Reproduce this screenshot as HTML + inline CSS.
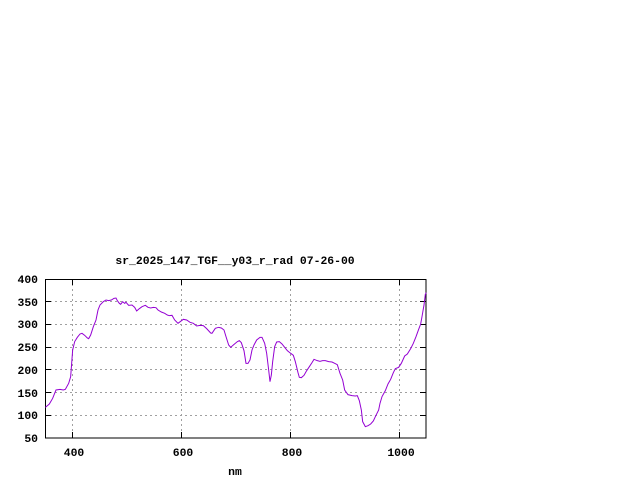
<!DOCTYPE html>
<html><head><style>
html,body{margin:0;padding:0;background:#fff;}
svg{display:block;}
text{font-family:"Liberation Mono",monospace;font-weight:bold;font-size:11.4px;fill:#000;}
</style></head><body>
<svg width="640" height="480" xmlns="http://www.w3.org/2000/svg">
<rect width="640" height="480" fill="#fff"/>
<g stroke="#a0a0a0" stroke-width="1" stroke-dasharray="2,3" fill="none">
<line x1="72.5" y1="279" x2="72.5" y2="438"/>
<line x1="181.5" y1="279" x2="181.5" y2="438"/>
<line x1="290.5" y1="279" x2="290.5" y2="438"/>
<line x1="399.5" y1="279" x2="399.5" y2="438"/>
<line x1="45" y1="301.5" x2="426" y2="301.5"/>
<line x1="45" y1="324.5" x2="426" y2="324.5"/>
<line x1="45" y1="347.5" x2="426" y2="347.5"/>
<line x1="45" y1="369.5" x2="426" y2="369.5"/>
<line x1="45" y1="392.5" x2="426" y2="392.5"/>
<line x1="45" y1="415.5" x2="426" y2="415.5"/>
</g>
<g stroke="#000" stroke-width="1" fill="none">
<rect x="45.5" y="279.5" width="380.5" height="158.5"/>
<path d="M45 301.5h6M45 324.5h6M45 347.5h6M45 369.5h6M45 392.5h6M45 415.5h6M426 301.5h-6M426 324.5h-6M426 347.5h-6M426 369.5h-6M426 392.5h-6M426 415.5h-6M72.5 438v-6M181.5 438v-6M290.5 438v-6M399.5 438v-6M72.5 279v6M181.5 279v6M290.5 279v6M399.5 279v6"/>
</g>
<g transform="translate(0,250) scale(0.33333)">
<polyline fill="none" stroke="#9400d3" stroke-width="3" points="136,472 148,462 158,445 168,420 180,418 190,420 196,418 206,400 212,380 218,300 224,275 232,262 240,252 246,250 254,256 262,264 266,266 272,255 280,230 288,210 294,180 300,165 310,155 318,150 326,152 334,150 342,145 348,144 352,152 358,160 362,163 368,155 374,160 378,157 386,166 396,165 404,172 410,183 418,176 426,170 436,166 444,172 452,174 460,172 468,173 474,180 484,186 494,190 502,195 508,197 516,196 524,210 534,220 542,214 550,208 560,210 570,217 580,220 590,228 600,226 610,227 620,236 632,249 636,250 646,235 656,232 664,234 672,240 678,260 686,285 692,292 700,285 712,275 718,272 724,278 732,302 738,340 744,340 750,330 756,300 762,285 770,270 780,262 786,262 794,280 800,310 806,360 810,395 814,375 818,335 824,290 830,276 838,275 846,282 854,292 862,302 872,310 880,316 886,335 894,368 898,382 904,383 912,376 920,362 928,350 936,338 942,328 952,332 960,334 968,332 976,332 986,335 996,336 1004,340 1012,344 1020,370 1028,390 1034,420 1044,434 1056,437 1066,438 1072,437 1078,452 1084,480 1088,515 1096,530 1104,527 1112,522 1120,513 1126,500 1136,480 1140,460 1146,440 1156,422 1164,402 1172,388 1180,368 1186,356 1196,352 1204,340 1214,318 1222,312 1232,296 1240,280 1248,260 1256,238 1262,222 1266,200 1272,165 1276,133 1279,128"/>
</g>
<g text-anchor="end">
<text x="38" y="283">400</text>
<text x="38" y="306">350</text>
<text x="38" y="328">300</text>
<text x="38" y="351">250</text>
<text x="38" y="374">200</text>
<text x="38" y="397">150</text>
<text x="38" y="419">100</text>
<text x="38" y="442">50</text>
</g>
<g text-anchor="middle">
<text x="74" y="456">400</text>
<text x="183" y="456">600</text>
<text x="292" y="456">800</text>
<text x="401" y="456">1000</text>
<text x="235" y="475">nm</text>
<text x="235" y="264">sr_2025_147_TGF__y03_r_rad 07-26-00</text>
</g>
</svg>
</body></html>
